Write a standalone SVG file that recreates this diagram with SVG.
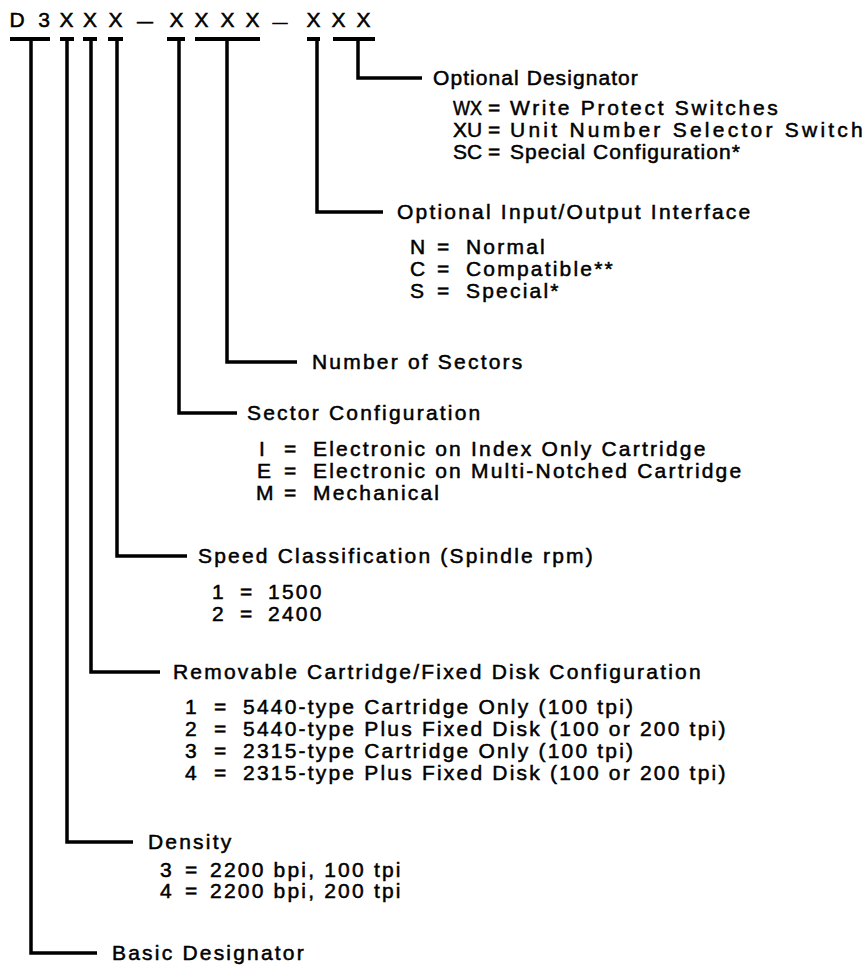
<svg xmlns="http://www.w3.org/2000/svg" width="868" height="968" viewBox="0 0 868 968">
<style>
.t{font-family:"Liberation Sans",Arial,Helvetica,sans-serif;font-size:21px;letter-spacing:2.2px;fill:#000;stroke:#000;stroke-width:0.5px}
.c{letter-spacing:0}
.ln{fill:none;stroke:#000;stroke-width:3.5;stroke-linejoin:miter;stroke-linecap:butt}
.bar{fill:none;stroke:#000;stroke-width:4}
</style>
<rect width="868" height="968" fill="#fff"/>
<g id="header">
<text class="t c" y="27" text-anchor="middle"><tspan x="17">D</tspan><tspan x="44">3</tspan><tspan x="66.5">X</tspan><tspan x="90">X</tspan><tspan x="115.5">X</tspan><tspan x="145" font-size="16">—</tspan><tspan x="176.5">X</tspan><tspan x="201.5">X</tspan><tspan x="227.5">X</tspan><tspan x="252.5">X</tspan><tspan x="280" font-size="15">—</tspan><tspan x="313.5">X</tspan><tspan x="338.5">X</tspan><tspan x="363.5">X</tspan></text>
<path class="bar" d="M10 39H50M60 39H74M83 39H97M108 39H123M167 39H185M195 39H260M307 39H320M333 39H375"/>
</g>
<g id="connectors">
<path class="ln" d="M31 39V953H97"/>
<path class="ln" d="M67 39V842H133"/>
<path class="ln" d="M91 39V672H160"/>
<path class="ln" d="M117 39V556H187"/>
<path class="ln" d="M179 39V413H237"/>
<path class="ln" d="M227 39V362H297"/>
<path class="ln" d="M317 39V212H383"/>
<path class="ln" d="M358 39V78H422"/>
</g>
<g id="optional-designator">
<text class="t" x="433" y="85" textLength="207">Optional Designator</text>
<text class="t" y="115"><tspan x="453" class="c" textLength="29" lengthAdjust="spacingAndGlyphs">WX</tspan><tspan x="488">=</tspan><tspan x="510" textLength="270">Write Protect Switches</tspan></text>
<text class="t" y="137"><tspan x="453" class="c">XU</tspan><tspan x="488">=</tspan><tspan x="510" textLength="355">Unit Number Selector Switch</tspan></text>
<text class="t" y="159"><tspan x="453" class="c">SC</tspan><tspan x="488">=</tspan><tspan x="510" textLength="232">Special Configuration*</tspan></text>
</g>
<g id="optional-io">
<text class="t" x="397" y="219">Optional Input/Output Interface</text>
<text class="t" y="254"><tspan x="410">N</tspan><tspan x="437">=</tspan><tspan x="466">Normal</tspan></text>
<text class="t" y="276"><tspan x="410">C</tspan><tspan x="437">=</tspan><tspan x="466">Compatible**</tspan></text>
<text class="t" y="298"><tspan x="410">S</tspan><tspan x="437">=</tspan><tspan x="466">Special*</tspan></text>
</g>
<g id="number-of-sectors">
<text class="t" x="312" y="369">Number of Sectors</text>
</g>
<g id="sector-configuration">
<text class="t" x="247" y="420">Sector Configuration</text>
<text class="t" y="456"><tspan x="259">I</tspan><tspan x="284">=</tspan><tspan x="313">Electronic on Index Only Cartridge</tspan></text>
<text class="t" y="478"><tspan x="257">E</tspan><tspan x="284">=</tspan><tspan x="313">Electronic on Multi-Notched Cartridge</tspan></text>
<text class="t" y="500"><tspan x="256">M</tspan><tspan x="284">=</tspan><tspan x="313">Mechanical</tspan></text>
</g>
<g id="speed-classification">
<text class="t" x="198" y="563">Speed Classification (Spindle rpm)</text>
<text class="t" y="599"><tspan x="212">1</tspan><tspan x="240">=</tspan><tspan x="268">1500</tspan></text>
<text class="t" y="621"><tspan x="212">2</tspan><tspan x="240">=</tspan><tspan x="268">2400</tspan></text>
</g>
<g id="removable-cartridge">
<text class="t" x="173" y="679">Removable Cartridge/Fixed Disk Configuration</text>
<text class="t" y="714"><tspan x="185">1</tspan><tspan x="214">=</tspan><tspan x="243">5440-type Cartridge Only (100 tpi)</tspan></text>
<text class="t" y="736"><tspan x="185">2</tspan><tspan x="214">=</tspan><tspan x="243">5440-type Plus Fixed Disk (100 or 200 tpi)</tspan></text>
<text class="t" y="758"><tspan x="185">3</tspan><tspan x="214">=</tspan><tspan x="243">2315-type Cartridge Only (100 tpi)</tspan></text>
<text class="t" y="780"><tspan x="185">4</tspan><tspan x="214">=</tspan><tspan x="243">2315-type Plus Fixed Disk (100 or 200 tpi)</tspan></text>
</g>
<g id="density">
<text class="t" x="148" y="849">Density</text>
<text class="t" y="877"><tspan x="160">3</tspan><tspan x="185">=</tspan><tspan x="210">2200 bpi, 100 tpi</tspan></text>
<text class="t" y="898"><tspan x="160">4</tspan><tspan x="185">=</tspan><tspan x="210">2200 bpi, 200 tpi</tspan></text>
</g>
<g id="basic-designator">
<text class="t" x="112" y="960">Basic Designator</text>
</g>
</svg>
